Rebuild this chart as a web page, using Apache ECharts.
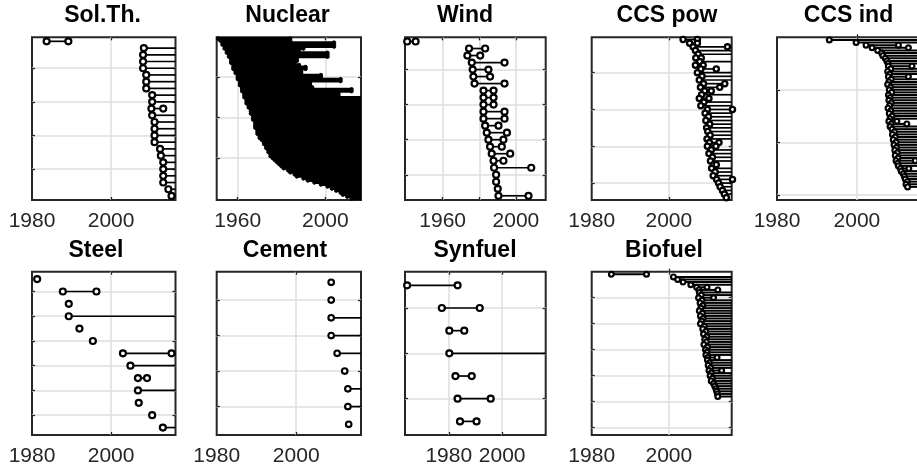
<!DOCTYPE html>
<html><head><meta charset="utf-8">
<script src="https://cdn.jsdelivr.net/npm/echarts@6/dist/echarts.min.js"></script>
<style>html,body{margin:0;padding:0;background:#fff}#c{width:917px;height:471px}</style>
</head><body><div id="c"></div>
<script>
// ---------- data: start year and end year of each project (null = still running) ----------
const titles = ['Sol.Th.', 'Nuclear', 'Wind', 'CCS pow', 'CCS ind', 'Steel', 'Cement', 'Synfuel', 'Biofuel'];

const solthStart = [1983.7, 2008.3, 2008.1, 2008.1, 2008.1, 2008.9, 2008.9, 2008.9, 2010.4, 2010.4, 2010.2, 2010.4,
  2011.0, 2011.0, 2011.0, 2011.0, 2012.4, 2012.6, 2013.2, 2013.2, 2013.2, 2013.2, 2014.5, 2015.3];
const solthEnd = [1989.2, null, null, null, null, null, null, null, null, null, 2013.2, null,
  null, null, null, null, null, null, null, null, null, null, null, null];

const nuclearStart = [1951, 1952, 1953, 1953, 1954, 1954, 1955, 1955, 1956, 1956,
  1957, 1957, 1957, 1958, 1958, 1958, 1959, 1959, 1960, 1960,
  1960, 1961, 1961, 1961, 1962, 1962, 1962, 1963, 1963, 1963,
  1964, 1964, 1964, 1965, 1965, 1966, 1966, 1966, 1967, 1967,
  1967, 1968, 1968, 1968, 1968, 1969, 1969, 1969, 1970, 1970,
  1971, 1972, 1972, 1973, 1973, 1974, 1974, 1975, 1975, 1976,
  1977, 1978, 1979, 1980, 1981, 1983, 1984, 1986, 1987, 1990,
  1992, 1995, 1998, 2001, 2003, 2005, 2007, 2008, 2010, 2012];
const nuclearEnd = [1984, 1984, 2004, 2004, 2004, 1990, 1988, 2001, 2001, 2001,
  1987, 1987, 1986, 1988, 1991, 1991, 1989, 1989, 1998, 1998,
  2007, 2007, 1993, 1993, 1994, 2012, 2012, 2006, 2006, null,
  null, null, null, null, null, null, null, null, null, null,
  null, null, null, null, null, null, null, null, null, null,
  null, null, null, null, null, null, null, null, null, null,
  null, null, null, null, null, null, null, null, null, null,
  null, null, null, null, null, null, null, null, null, null];

const windStart = [1940.6, 1974.4, 1973.5, 1975.9, 1976.4, 1976.8, 1977.4, 1982.3, 1982.3, 1982.3, 1982.3, 1982.3,
  1983.2, 1984.1, 1985.0, 1985.9, 1986.8, 1987.8, 1988.1, 1989.2, 1989.2, 1990.1, 1990.5];
const windEnd = [1945.2, 1983.2, 1980.5, 1993.8, 1985.0, 1985.9, 1993.8, 1987.8, 1987.8, 1987.8, 1993.8, 1993.8,
  1990.5, 1995.1, 1993.2, 1992.3, 1996.9, 1993.2, 2008.4, 1989.2, 1989.2, 1990.1, 2006.9];

const ccsPowStart = [2003.7, 2005.4, 2006.3, 2006.9, 2007.6, 2007.0, 2008.0, 2006.9, 2008.3, 2007.4,
  2008.6, 2007.9, 2009.0, 2008.2, 2009.3, 2008.5, 2007.9, 2009.1, 2008.3, 2010.0,
  2009.4, 2010.3, 2009.6, 2010.6, 2009.8, 2010.1, 2010.7, 2009.9, 2010.5, 2010.0,
  2011.0, 2010.4, 2011.3, 2010.8, 2011.6, 2011.1, 2012.0, 2011.5, 2012.4, 2012.9,
  2013.3, 2013.9, 2014.4, 2014.9];
const ccsPowEnd = [2007.4, 2007.4, 2015.2, null, null, 2008.4, null, 2008.9, 2012.3, null,
  null, null, 2014.5, 2013.2, 2011.0, null, 2010.4, null, null, 2016.5,
  null, null, null, null, null, null, null, null, 2013.0, 2012.2,
  null, null, null, null, 2012.3, null, null, null, 2016.5, null,
  null, null, null, 2014.9];

const ccsIndStart = [1993.1, 1999.8, 2002.3, 2003.8, 2005.2, 2006.2, 2006.5, 2007.1, 2007.5, 2007.8,
  2007.9, 2008.5, 2007.7, 2008.2, 2007.9, 2008.6, 2008.0, 2007.7, 2008.4, 2008.1,
  2008.7, 2007.9, 2008.3, 2008.0, 2008.6, 2008.2, 2007.8, 2008.5, 2008.1, 2008.8,
  2008.3, 2008.0, 2008.6, 2008.3, 2008.8, 2009.4, 2008.9, 2009.6, 2009.1, 2009.8,
  2009.3, 2009.9, 2009.5, 2010.1, 2009.6, 2010.3, 2009.8, 2010.2, 2010.4, 2010.9,
  2011.1, 2011.6, 2011.9, 2012.1, 2012.6, 2012.3, 2012.7];
const ccsIndEnd = [null, null, 2010.4, 2012.9, null, null, null, null, null, null,
  2013.8, null, null, null, 2012.9, null, null, null, null, null,
  null, null, null, null, null, null, null, null, null, null,
  null, 2010.0, 2012.5, null, null, null, null, null, null, null,
  null, null, null, null, null, null, 2014.6, null, null, 2013.0,
  null, null, null, null, null, null, null];

const steelStart = [1981.3, 1987.8, 1989.3, 1989.3, 1992.0, 1995.4, 2003.0, 2004.9, 2006.8, 2006.8, 2007.0, 2010.4, 2013.1];
const steelEnd = [1981.3, 1996.3, 1989.3, null, 1992.0, 1995.4, 2015.3, null, 2009.1, null, 2007.0, 2010.4, null];

const cementStart = [2008.8, 2008.8, 2008.8, 2008.8, 2010.3, 2012.2, 2013.0, 2013.0, 2013.2];
const cementEnd = [2008.8, 2008.8, null, null, null, 2012.2, null, null, 2013.2];

const synfuelStart = [1964.4, 1977.4, 1980.2, 1980.2, 1982.5, 1983.3, 1984.2];
const synfuelEnd = [1983.3, 1991.6, 1985.8, null, 1988.6, 1995.7, 1990.4];

const biofuelStart = [1985.1, 2001.2, 2002.3, 2003.7, 2005.7, 2007.2, 2007.8, 2007.9, 2008.4, 2007.7,
  2008.6, 2008.1, 2008.8, 2008.3, 2007.9, 2008.7, 2008.2, 2008.9, 2008.5, 2008.2,
  2009.2, 2008.8, 2009.6, 2009.0, 2009.8, 2009.3, 2009.7, 2009.1, 2010.0, 2009.5,
  2009.9, 2009.6, 2010.1, 2010.0, 2010.5, 2010.2, 2010.8, 2010.4, 2011.0, 2010.7,
  2011.3, 2011.0, 2011.6, 2011.9, 2012.2, 2012.4, 2012.6, 2012.7];
const biofuelEnd = [1994.2, null, null, null, null, 2009.9, 2012.7, null, null, 2011.6,
  null, null, null, null, null, null, null, null, null, null,
  null, null, null, null, null, null, null, null, null, null,
  null, null, 2012.5, null, null, null, null, 2013.7, null, null,
  null, null, null, null, null, null, null, null];

// ---------- axis ticks / labels ----------
const xLabelVals = [[1980, 2000], [1960, 2000], [1960, 2000], [1980, 2000], [1980, 2000],
  [1980, 2000], [1980, 2000], [1980, 2000], [1980, 2000]];
const xGridVals = [[2000], [1960, 2000], [1960, 1980, 2000], [2000], [2000],
  [2000], [2000], [1980, 2000], [2000]];
const xRange = [[1980, 2016.3], [1950.4, 2016.3], [1939.4, 2016.3], [1980, 2016.3], [1980, 2016.3],
  [1980, 2016.3], [1980, 2016.3], [1963.6, 2016.3], [1980, 2016.3]];
const yRange = [[0.4, 24.6], [0.4, 80.6], [0.4, 23.6], [0.4, 44.6], [0, 62],
  [0.4, 13.6], [0.4, 9.6], [0.4, 7.6], [0, 62.8]];
const yTickVals = [[5, 10, 15, 20], [20, 40, 60], [5, 10, 15, 20], [10, 20, 30, 40], [20, 40, 60],
  [2, 4, 6, 8, 10, 12], [2, 4, 6, 8], [2, 4, 6], [10, 20, 30, 40, 50, 60]];

const starts = [solthStart, nuclearStart, windStart, ccsPowStart, ccsIndStart, steelStart, cementStart, synfuelStart, biofuelStart];
const ends = [solthEnd, nuclearEnd, windEnd, ccsPowEnd, ccsIndEnd, steelEnd, cementEnd, synfuelEnd, biofuelEnd];

// ---------- layout & styles ----------
const boxes = [
  [32, 37.3, 143.5, 162.7], [216.7, 37.3, 144.3, 162.7], [405, 37.3, 140.7, 162.7], [591.7, 37.3, 140, 162.7], [777, 37.3, 145, 162.7],
  [32, 271.7, 143.5, 163.3], [216.7, 271.7, 144.3, 163.3], [405, 271.7, 140.7, 163.3], [591.7, 271.7, 140, 163.3]
];
const titlePos = [[102.5, 15.3], [287.5, 15.3], [465, 15.3], [667, 15.3], [848.5, 15.3],
  [96, 250.5], [285, 250.5], [475, 250.5], [664, 250.5]];
const SPARSE = {r: 3, mlw: 2.2, lw: 1.7, fill: '#fff'};
const DENSE = {r: 2.4, mlw: 2.2, lw: 2.0, fill: '#fff'};
const markStyle = [SPARSE, {r: 1.7, mlw: 1, lw: 2.8, fill: '#000'}, SPARSE,
  {r: 2.6, mlw: 2.3, lw: 1.7, fill: '#fff'}, DENSE,
  SPARSE, {r: 2.8, mlw: 2.1, lw: 1.7, fill: '#fff'}, SPARSE, DENSE];

const FONT = '"Liberation Sans", Arial, Helvetica, sans-serif';
const AX = '#262626', GRIDC = '#dedede';

const grid = [], xAxis = [], yAxis = [], series = [], graphic = [];
titles.forEach((t, i) => {
  const b = boxes[i];
  grid.push({left: b[0], top: b[1], width: b[2], height: b[3], show: true, borderColor: AX, borderWidth: 2,
    backgroundColor: 'rgba(0,0,0,0)', containLabel: false, outerBoundsMode: 'none'});
  const tickStyle = {color: AX, width: 1.3};
  xAxis.push({type: 'value', gridIndex: i, position: 'bottom', min: xRange[i][0], max: xRange[i][1],
    axisLine: {show: false},
    axisTick: {show: true, inside: true, length: 3, customValues: xGridVals[i], lineStyle: tickStyle},
    axisLabel: {show: true, customValues: xLabelVals[i], fontSize: 21, color: AX, margin: 11, fontFamily: FONT,
      formatter: v => String(v)},
    splitLine: {show: true, lineStyle: {color: GRIDC, width: 1.5}}});
  xAxis.push({type: 'value', gridIndex: i, position: 'top', min: xRange[i][0], max: xRange[i][1],
    axisLine: {show: false},
    axisTick: {show: true, inside: true, length: 3, customValues: xGridVals[i], lineStyle: tickStyle},
    axisLabel: {show: false}, splitLine: {show: false}});
  yAxis.push({type: 'value', gridIndex: i, position: 'left', inverse: true, min: yRange[i][0], max: yRange[i][1],
    axisLine: {show: false},
    axisTick: {show: true, inside: true, length: 3, customValues: yTickVals[i], lineStyle: tickStyle},
    axisLabel: {show: false},
    splitLine: {show: true, lineStyle: {color: GRIDC, width: 1.5}}});
  yAxis.push({type: 'value', gridIndex: i, position: 'right', inverse: true, min: yRange[i][0], max: yRange[i][1],
    axisLine: {show: false},
    axisTick: {show: true, inside: true, length: 3, customValues: yTickVals[i], lineStyle: tickStyle},
    axisLabel: {show: false}, splitLine: {show: false}});

  const S = starts[i], E = ends[i], M = markStyle[i];
  series.push({
    type: 'custom', xAxisIndex: 2 * i, yAxisIndex: 2 * i, clip: false, silent: true,
    data: S.map((s, k) => [s, k + 1]),
    encode: {x: 0, y: 1},
    renderItem: function (params, api) {
      const k = params.dataIndex;
      const s = S[k], e = E[k], row = k + 1;
      const p0 = api.coord([s, row]);
      const cs = params.coordSys;
      const xEnd = (e == null) ? cs.x + cs.width : api.coord([e, row])[0];
      const children = [{type: 'line', shape: {x1: p0[0], y1: p0[1], x2: xEnd, y2: p0[1]},
        style: {stroke: '#000', lineWidth: M.lw}}];
      children.push({type: 'circle', shape: {cx: p0[0], cy: p0[1], r: M.r},
        style: {fill: M.fill, stroke: '#000', lineWidth: M.mlw}});
      if (e != null && e !== s) {
        children.push({type: 'circle', shape: {cx: xEnd, cy: p0[1], r: M.r},
          style: {fill: M.fill, stroke: '#000', lineWidth: M.mlw}});
      }
      return {type: 'group', children: children};
    }
  });
  graphic.push({type: 'text', x: titlePos[i][0], y: titlePos[i][1], silent: true,
    style: {text: t, fontSize: 23, fontWeight: 'bold', fill: '#000', fontFamily: FONT,
      textAlign: 'center', textVerticalAlign: 'middle'}});
});

const chart = echarts.init(document.getElementById('c'), null, {renderer: 'canvas'});
chart.setOption({animation: false, backgroundColor: '#fff', grid, xAxis, yAxis, series, graphic});
</script></body></html>
